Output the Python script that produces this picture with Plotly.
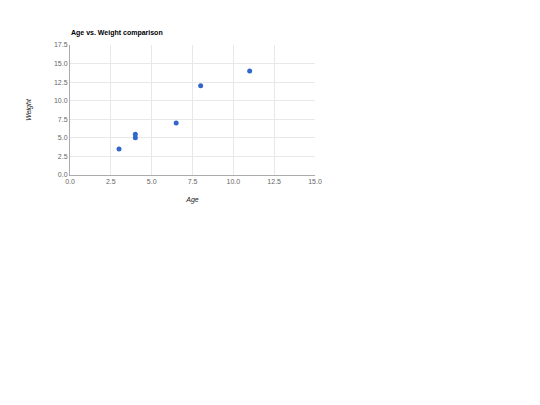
import plotly.graph_objects as go

age = [8, 4, 11, 4, 3, 6.5]
weight = [12, 5.5, 14, 5, 3.5, 7]
x_ticks = [0, 2.5, 5, 7.5, 10, 12.5, 15]
y_ticks = [0, 2.5, 5, 7.5, 10, 12.5, 15, 17.5]

FONT = "Liberation Sans, Arial"

fig = go.Figure()
fig.add_trace(
    go.Scatter(
        x=age,
        y=weight,
        mode="markers",
        marker=dict(color="#3366cc", size=5),
        showlegend=False,
    )
)

axis_font = dict(family=FONT, size=7, color="#666666")

fig.update_xaxes(
    range=[0, 15],
    tickvals=x_ticks,
    ticktext=[f"{v:.1f}" for v in x_ticks],
    tickfont=axis_font,
    gridcolor="#e8e8e8",
    gridwidth=1,
    zeroline=False,
    showline=True,
    linecolor="#aaaaaa",
    linewidth=1,
    ticks="",
    automargin=False,
    title=dict(text="<i>Age</i>", font=dict(family=FONT, size=7, color="#222222"), standoff=12),
)
fig.update_yaxes(
    range=[0, 17.5],
    tickvals=y_ticks,
    ticktext=[f"{v:.1f}" for v in y_ticks],
    tickfont=axis_font,
    gridcolor="#e8e8e8",
    gridwidth=1,
    zeroline=False,
    showline=True,
    linecolor="#aaaaaa",
    linewidth=1,
    ticks="",
    automargin=False,
    title=dict(text="<i>Weight</i>", font=dict(family=FONT, size=7, color="#222222"), standoff=21),
)

# page body adds an 8px offset, so margins are reduced by 8 / 7
fig.update_layout(
    width=540,
    height=405,
    paper_bgcolor="white",
    plot_bgcolor="white",
    margin=dict(l=62, r=233, t=37, b=238),
    title=dict(
        text="<b>Age vs. Weight comparison</b>",
        font=dict(family=FONT, size=7, color="#000000"),
        x=63 / 540,
        xanchor="left",
        y=1 - 25 / 405,
        yanchor="middle",
    ),
)

fig.write_html("out.html")
